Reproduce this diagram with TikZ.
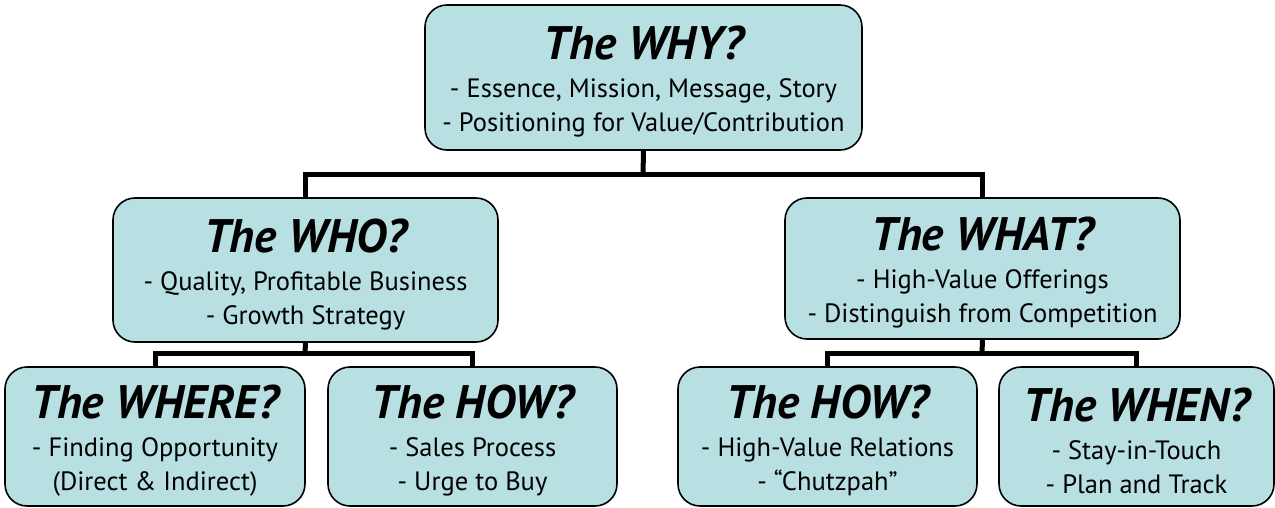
\documentclass[tikz,border=0pt]{standalone}
\usepackage{fontspec}
\setmainfont{PT Sans}
\definecolor{boxfill}{RGB}{184,223,226}
\newcommand{\ttl}[1]{{\fontsize{47}{47}\selectfont\bfseries\itshape\rule{0pt}{42pt}#1}}

\begin{document}
\begin{tikzpicture}[x=1pt,y=-1pt,
lab/.style={draw,line width=1.6pt,fill=boxfill,rounded corners=22pt,align=center,inner sep=0pt,font=\fontsize{26.5}{34}\selectfont},
link/.style={line width=5pt}]
	\def\hh{139pt}
	\useasboundingbox (0,0) rectangle (1275,508);
	% top
	\node[lab,minimum width=437pt,minimum height=145pt] at (643.5,77.5) (why) {\ttl{The WHY?}\\[4pt]- Essence, Mission, Message, Story\\- Positioning for Value/Contribution};
	% middle
	\node[lab,minimum width=385pt,minimum height=144pt] at (305.5,270) (who) {\ttl{The WHO?}\\[4pt]- Quality, Profitable Business\\- Growth Strategy};
	\node[lab,minimum width=395pt,minimum height=141pt] at (982.5,268.5) (what) {\ttl{The WHAT?}\\[4pt]- High-Value Offerings\\- Distinguish from Competition};
	% bottom
	\node[lab,minimum width=300pt,minimum height=\hh] at (155,436.5) (where) {\ttl{The WHERE?}\\[4pt]- Finding Opportunity\\(Direct \& Indirect)};
	\node[lab,minimum width=289pt,minimum height=\hh] at (472.5,436.5) (howa) {\ttl{The HOW?}\\[4pt]- Sales Process\\- Urge to Buy};
	\node[lab,minimum width=299pt,minimum height=\hh] at (827.5,436.5) (howb) {\ttl{The HOW?}\\[4pt]- High-Value Relations\\- “Chutzpah”};
	\node[lab,minimum width=275pt,minimum height=\hh] at (1136.5,436.5) (when) {\ttl{The WHEN?}\\[4pt]- Stay-in-Touch\\- Plan and Track};

	\coordinate (bar1) at (643,175);
	\coordinate (bar2) at (305,353);
	\coordinate (bar3) at (982,353);
	\draw[link] (why.south) -- (bar1);
	\draw[link] (who.north) |- (bar1) -| (what.north);
	\draw[link] (who.south) -- (bar2);
	\draw[link] (where.north) |- (bar2) -| (howa.north);
	\draw[link] (what.south) -- (bar3);
	\draw[link] (howb.north) |- (bar3) -| (when.north);
\end{tikzpicture}
\end{document}
